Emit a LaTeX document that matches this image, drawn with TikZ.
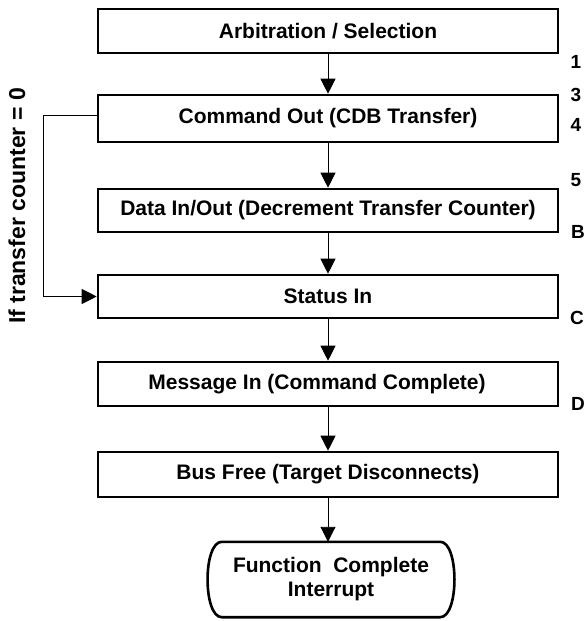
\documentclass[tikz,border=0pt]{standalone}
\usepackage{fontspec}
\setmainfont{Liberation Sans}
\usetikzlibrary{arrows.meta,calc}
\begin{document}
\begin{tikzpicture}[x=1pt,y=-1pt,
  stepbox/.style={draw, line width=2.6pt, minimum width=460pt, inner sep=0pt,
    font=\fontsize{21}{24}\selectfont\bfseries},
  flow/.style={line width=0.9pt, -{Triangle[length=15pt,width=15pt]}},
  lbl/.style={font=\fontsize{19}{22}\selectfont\bfseries, inner sep=0pt}]
\useasboundingbox (0,0) rectangle (586,621);
\node[stepbox, minimum height=44pt] (b1) at (328,31) {Arbitration / Selection};
\node[stepbox, minimum height=47pt] (b2) at (328,118.5) {Command Out (CDB Transfer)};
\node[stepbox, minimum height=43pt] (b3) at (328,210.5) {Data In/Out (Decrement Transfer Counter)};
\node[stepbox, minimum height=43pt] (b4) at (328,296.5) {Status In};
\node[stepbox, minimum height=44pt] (b5) at (328,384) {\hspace*{-22pt}Message In (Command Complete)};
\node[stepbox, minimum height=45pt] (b6) at (328,474.5) {Bus Free (Target Disconnects)};
\node[font=\fontsize{21}{24}\selectfont\bfseries, align=center, inner sep=0pt,
  minimum width=218pt, minimum height=75pt] (term) at (331,579.5)
  {Function\ \ Complete\\Interrupt};
\draw[line width=2.6pt] (term.north west) -- (term.north east)
  .. controls ($(term.north east)+(19,0)$) and ($(term.south east)+(19,0)$) .. (term.south east)
  -- (term.south west)
  .. controls ($(term.south west)+(-19,0)$) and ($(term.north west)+(-19,0)$) .. cycle;
\draw[flow] (b1) -- (b2);
\draw[flow] (b2) -- (b3);
\draw[flow] (b3) -- (b4);
\draw[flow] (b4) -- (b5);
\draw[flow] (b5) -- (b6);
\draw[flow] (b6.south) -- (b6.south |- term.north);
\coordinate (lc) at (43,115);
\draw[flow] (b2.west |- lc) -- (lc) |- (b4.west);
\node[rotate=90, font=\fontsize{23}{26}\selectfont\bfseries, inner sep=0pt] (cond) at (17,206) {If transfer counter = 0};
\node[lbl] (l1) at (576,62) {1};
\node[lbl] (l3) at (576,95) {3};
\node[lbl] (l4) at (576,125) {4};
\node[lbl] (l5) at (576,180) {5};
\node[lbl] (lB) at (578,232) {B};
\node[lbl] (lC) at (577,318) {C};
\node[lbl] (lD) at (578,404) {D};
\end{tikzpicture}
\end{document}
